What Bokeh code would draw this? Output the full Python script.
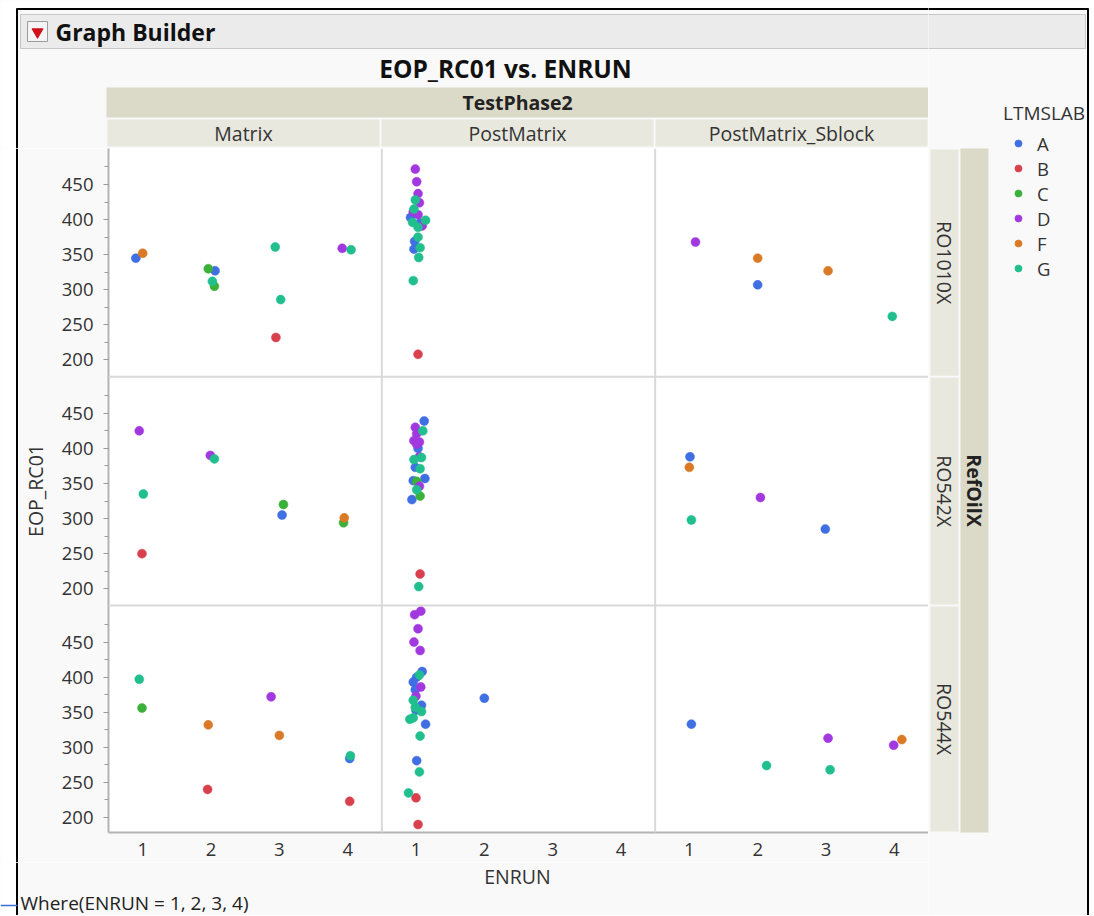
import math
from bokeh.plotting import figure
from bokeh.layouts import column, row
from bokeh.models import (Range1d, FixedTicker, Label, Legend, LegendItem, Span,
                          ColumnDataSource)
from bokeh.embed import file_html
from bokeh.resources import INLINE

# ---------------- data ----------------
PHASES = ["Matrix", "PostMatrix", "PostMatrix_Sblock"]
OILS = ["RO1010X", "RO542X", "RO544X"]
LABS = ["A", "B", "C", "D", "F", "G"]
LAB_COLORS = ["#3F6FE3", "#D8404E", "#3CB13A", "#A239E0", "#DA7A27", "#21BF8E"]
ENRUN_TICKS = [1, 2, 3, 4]
EOP_TICKS = [200, 250, 300, 350, 400, 450]
EOP_MINOR = [225, 275, 325, 375, 425, 475]

matrix_ro1010x_enrun = [0.90, 1.00, 1.96, 2.06, 2.02, 2.05, 2.94, 3.02, 2.95, 3.92, 4.05]
matrix_ro1010x_eop = [345, 352, 330, 327, 312, 305, 361, 286, 232, 359, 357]
matrix_ro1010x_lab = ["A", "F", "C", "A", "G", "C", "G", "G", "B", "D", "G"]

post_ro1010x_enrun = [0.99, 1.01, 1.03, 0.99, 1.05, 0.97, 0.96, 1.03, 0.92, 0.95, 1.14,
                      1.06, 1.09, 1.03, 1.03, 0.98, 1.06, 0.97, 1.04, 0.96, 1.03]
post_ro1010x_eop = [472, 454, 437, 428, 424, 415, 411, 407, 403, 396, 399,
                    395, 391, 389, 375, 369, 360, 358, 346, 313, 208]
post_ro1010x_lab = ["D", "D", "D", "G", "D", "G", "D", "D", "A", "G", "G",
                    "A", "D", "G", "G", "A", "G", "A", "G", "G", "B"]

sblock_ro1010x_enrun = [1.09, 2.00, 3.03, 2.00, 3.97]
sblock_ro1010x_eop = [368, 345, 327, 307, 262]
sblock_ro1010x_lab = ["D", "F", "F", "A", "G"]

matrix_ro542x_enrun = [0.95, 1.99, 2.05, 1.01, 3.06, 3.04, 3.95, 3.94, 0.99]
matrix_ro542x_eop = [425, 390, 385, 335, 320, 305, 301, 294, 250]
matrix_ro542x_lab = ["D", "D", "G", "G", "C", "A", "F", "C", "B"]

post_ro542x_enrun = [1.12, 0.99, 1.10, 1.01, 0.97, 1.05, 1.01, 1.03, 1.05, 1.08, 0.97,
                     0.99, 1.06, 1.13, 0.96, 1.01, 1.05, 1.01, 1.06, 0.94, 1.06, 1.04]
post_ro542x_eop = [439, 430, 425, 421, 411, 409, 406, 400, 388, 387, 384,
                   373, 371, 357, 354, 353, 346, 341, 332, 327, 221, 203]
post_ro542x_lab = ["A", "D", "G", "D", "D", "D", "D", "A", "D", "G", "G",
                   "A", "G", "A", "A", "C", "D", "G", "C", "A", "B", "G"]

sblock_ro542x_enrun = [1.01, 1.00, 2.04, 1.03, 2.99]
sblock_ro542x_eop = [388, 373, 330, 298, 285]
sblock_ro542x_lab = ["A", "F", "D", "G", "A"]

matrix_ro544x_enrun = [0.95, 0.99, 2.88, 1.96, 3.00, 4.04, 4.03, 1.95, 4.03]
matrix_ro544x_eop = [397, 356, 372, 332, 317, 288, 284, 240, 223]
matrix_ro544x_lab = ["G", "C", "D", "F", "F", "G", "A", "B", "B"]

post_ro544x_enrun = [1.07, 0.98, 1.03, 0.97, 1.06, 1.09, 1.05, 1.01, 0.96, 1.07, 0.99,
                     1.00, 0.96, 1.08, 0.99, 1.00, 1.08, 0.91, 0.96, 1.14, 1.06, 1.01,
                     1.05, 0.89, 1.00, 1.03, 2.00]
post_ro544x_eop = [494, 489, 469, 450, 438, 408, 403, 400, 393, 386, 382,
                   373, 367, 360, 357, 353, 351, 340, 342, 333, 316, 281,
                   265, 235, 228, 190, 370]
post_ro544x_lab = ["D", "D", "D", "D", "D", "A", "G", "A", "A", "D", "A",
                   "D", "G", "A", "G", "A", "G", "G", "G", "A", "G", "A",
                   "G", "G", "B", "B", "A"]

sblock_ro544x_enrun = [1.03, 3.03, 3.99, 4.11, 2.13, 3.06]
sblock_ro544x_eop = [333, 313, 303, 311, 274, 268]
sblock_ro544x_lab = ["A", "D", "D", "F", "G", "G"]

PANELS = {
    (0, 0): (matrix_ro1010x_enrun, matrix_ro1010x_eop, matrix_ro1010x_lab),
    (1, 0): (post_ro1010x_enrun, post_ro1010x_eop, post_ro1010x_lab),
    (2, 0): (sblock_ro1010x_enrun, sblock_ro1010x_eop, sblock_ro1010x_lab),
    (0, 1): (matrix_ro542x_enrun, matrix_ro542x_eop, matrix_ro542x_lab),
    (1, 1): (post_ro542x_enrun, post_ro542x_eop, post_ro542x_lab),
    (2, 1): (sblock_ro542x_enrun, sblock_ro542x_eop, sblock_ro542x_lab),
    (0, 2): (matrix_ro544x_enrun, matrix_ro544x_eop, matrix_ro544x_lab),
    (1, 2): (post_ro544x_enrun, post_ro544x_eop, post_ro544x_lab),
    (2, 2): (sblock_ro544x_enrun, sblock_ro544x_eop, sblock_ro544x_lab),
}

# ---------------- layout constants (page pixels) ----------------
COL_SPAN = 4          # ENRUN units per facet column
ROW_SPAN = 326        # EOP units per facet row
X0, X1 = 0.5, 12.5
Y0, Y1 = 178.63, 1153.3
TOTAL_W = 1092
TOTAL_H = 915
FL, FR, FT, FB = 106, 928, 148, 832   # panel frame edges
MID_BOTTOM = 862
LEFT_EDGE = 18
WIN_R = 1088
FONT = "Open Sans"
BG = "#F9F9F9"
STRIP_OUT = "#DBD9C8"
STRIP_IN = "#E8E8DE"
TXT = "#333333"
FS = "19.5px"


def gx(col, x):
    return x + COL_SPAN * col


def gy(row, y):
    return y + ROW_SPAN * (2 - row)


def px_x(g):
    return FL + (g - X0) / (X1 - X0) * (FR - FL)


def px_y(g):
    return FB - (g - Y0) / (Y1 - Y0) * (FB - FT)


def canvas(x0, x1, y0, y1):
    """A figure whose frame fills its whole canvas, in page-pixel units (y down)."""
    f = figure(width=x1 - x0, height=y1 - y0, output_backend="svg", toolbar_location=None,
               x_range=Range1d(x0, x1), y_range=Range1d(y1, y0),
               x_axis_location=None, y_axis_location=None,
               min_border=0, min_border_left=0, min_border_right=0,
               min_border_top=0, min_border_bottom=0, frame_align=False)
    f.grid.visible = False
    f.outline_line_color = None
    f.background_fill_color = BG
    f.border_fill_color = BG
    return f


def label(f, x, y, text, size=FS, bold=False, align="center", angle=0.0, color=TXT):
    f.add_layout(Label(x=x, y=y, text=text, text_font=FONT, text_font_size=size,
                       text_font_style="bold" if bold else "normal", text_color=color,
                       text_align=align, text_baseline="middle", angle=angle))


col_px = [px_x(gx(c, 0.5)) for c in range(3)] + [px_x(X1)]
row_px = [px_y(Y1)] + [px_y(gy(r, 176)) for r in range(2)] + [px_y(Y0)]

# ---------------- top-left: header bar, title, column strips ----------------
T = canvas(0, FR, 0, FT)
T.quad(left=[0, 0], right=[FR, 16], top=[0, 0], bottom=[8, FT], fill_color="white",
       line_color=None)
T.segment(x0=[16.5, 16], y0=[8, 8.5], x1=[16.5, FR], y1=[FT, 8.5],
          line_color="black", line_width=2)
T.quad(left=[20], right=[FR + 10], top=[14], bottom=[48], fill_color="#EBEBEB",
       line_color="#C8C8C8", line_width=1)
T.quad(left=[27], right=[47], top=[21], bottom=[41], fill_color="#F4F4F4",
       line_color="#9C9C9C", line_width=1)
T.scatter(x=[37], y=[31.5], marker="inverted_triangle", size=11, fill_color="#D0101A",
          line_color="#D0101A")
label(T, 55, 31, "Graph Builder", size="23px", bold=True, align="left", color="#111111")
label(T, 505, 68, "EOP_RC01 vs. ENRUN", size="24.5px", bold=True, color="#111111")
T.quad(left=[FL], right=[FR], top=[87], bottom=[117], fill_color=STRIP_OUT, line_color=None)
label(T, (FL + FR) / 2, 102, "TestPhase2", bold=True, color="#222222")
T.quad(left=[col_px[c] + 1 for c in range(3)], right=[col_px[c + 1] - 1 for c in range(3)],
       top=[119] * 3, bottom=[146] * 3, fill_color=STRIP_IN, line_color=None)
for c, name in enumerate(PHASES):
    label(T, (col_px[c] + col_px[c + 1]) / 2, 132.5, name)

# ---------------- left window edge ----------------
L = canvas(0, LEFT_EDGE, FT, MID_BOTTOM)
L.quad(left=[0], right=[16], top=[FT], bottom=[MID_BOTTOM], fill_color="white", line_color=None)
L.segment(x0=[16.5], y0=[FT], x1=[16.5], y1=[MID_BOTTOM], line_color="black", line_width=2)

# ---------------- main panels ----------------
M = figure(width=FR - LEFT_EDGE, height=MID_BOTTOM - FT, output_backend="svg",
           toolbar_location=None, x_range=Range1d(X0, X1), y_range=Range1d(Y0, Y1),
           min_border_left=FL - LEFT_EDGE, min_border_right=0, min_border_top=0,
           min_border_bottom=MID_BOTTOM - FB, frame_align=False)
M.grid.visible = False
M.outline_line_color = None
M.background_fill_color = "white"
M.border_fill_color = BG

xa = M.xaxis[0]
xa.ticker = FixedTicker(ticks=[gx(c, t) for c in range(3) for t in ENRUN_TICKS])
xa.major_label_overrides = {gx(c, t): str(t) for c in range(3) for t in ENRUN_TICKS}
xa.axis_line_color = "#B4B4B4"
xa.axis_line_width = 2
xa.major_tick_line_color = None
xa.minor_tick_line_color = None
xa.major_label_standoff = 4
xa.major_label_text_font = FONT
xa.major_label_text_font_size = "18.5px"
xa.major_label_text_color = TXT

ya = M.yaxis[0]
ya.ticker = FixedTicker(ticks=[gy(r, t) for r in range(3) for t in EOP_TICKS],
                        minor_ticks=[gy(r, t) for r in range(3) for t in EOP_MINOR])
ya.major_label_overrides = {gy(r, t): str(t) for r in range(3) for t in EOP_TICKS}
ya.axis_line_color = "#B4B4B4"
ya.axis_line_width = 2
ya.major_tick_line_color = "#9A9A9A"
ya.minor_tick_line_color = "#9A9A9A"
ya.major_tick_out = 5
ya.major_tick_in = 0
ya.minor_tick_out = 4
ya.minor_tick_in = 0
ya.major_label_standoff = 10
ya.major_label_text_font = FONT
ya.major_label_text_font_size = "18.5px"
ya.major_label_text_color = TXT
ya.axis_label = "EOP_RC01"
ya.axis_label_text_font = FONT
ya.axis_label_text_font_size = FS
ya.axis_label_text_font_style = "normal"
ya.axis_label_text_color = TXT
ya.axis_label_standoff = 10

for c in range(1, 3):
    M.add_layout(Span(location=gx(c, 0.5), dimension="height", line_color="#D9D9D9", line_width=2))
for r in range(0, 2):
    M.add_layout(Span(location=gy(r, 176), dimension="width", line_color="#D9D9D9", line_width=2))

for lab, color in zip(LABS, LAB_COLORS):
    xs, ys = [], []
    for (c, r), (ex, ey, el) in PANELS.items():
        for x, y, l in zip(ex, ey, el):
            if l == lab:
                xs.append(gx(c, x))
                ys.append(gy(r, y))
    M.scatter("x", "y", source=ColumnDataSource(dict(x=xs, y=ys)), size=9,
              fill_color=color, line_color=color, line_width=0.5)

# ---------------- bottom-left: axis title + where clause ----------------
B = canvas(0, FR, MID_BOTTOM, TOTAL_H)
B.quad(left=[0], right=[16], top=[MID_BOTTOM], bottom=[TOTAL_H], fill_color="white",
       line_color=None)
B.segment(x0=[16.5], y0=[MID_BOTTOM], x1=[16.5], y1=[TOTAL_H], line_color="black", line_width=2)
B.segment(x0=[0], y0=[905], x1=[17], y1=[905], line_color="#3A6FD8", line_width=1.5)
label(B, (FL + FR) / 2, 876, "ENRUN")
label(B, 20, 902, "Where(ENRUN = 1, 2, 3, 4)", size="19px", align="left", color="#222222")

# ---------------- right column: strips, legend, window edge ----------------
RC = canvas(FR, TOTAL_W, 0, TOTAL_H)
RC.quad(left=[FR, WIN_R + 1], right=[TOTAL_W, TOTAL_W], top=[0, 0], bottom=[8, TOTAL_H],
        fill_color="white", line_color=None)
RC.segment(x0=[FR - 2, WIN_R - 0.5], y0=[8.5, 8], x1=[WIN_R, WIN_R - 0.5], y1=[8.5, TOTAL_H],
           line_color="black", line_width=2)
RC.quad(left=[FR - 10], right=[1085], top=[14], bottom=[48], fill_color="#EBEBEB",
        line_color="#C8C8C8", line_width=1)
RC.quad(left=[930] * 3, right=[958] * 3, top=[row_px[r] + 1 for r in range(3)],
        bottom=[row_px[r + 1] - 1 for r in range(3)], fill_color=STRIP_IN, line_color=None)
RC.quad(left=[960], right=[988], top=[FT], bottom=[FB], fill_color=STRIP_OUT, line_color=None)
for r, name in enumerate(OILS):
    label(RC, 944, (row_px[r] + row_px[r + 1]) / 2, name, angle=-math.pi / 2)
label(RC, 974, (FT + FB) / 2, "RefOilX", bold=True, angle=-math.pi / 2, color="#222222")

# legend swatches: one off-canvas point per lab so the legend has a glyph to draw
legend_rs = [RC.scatter(x=[FR - 500], y=[-500], size=9, fill_color=col, line_color=col,
                        line_width=0.5)
             for col in LAB_COLORS]
legend = Legend(items=[LegendItem(label=lab, renderers=[rr]) for lab, rr in zip(LABS, legend_rs)],
                location=(1003 - FR, TOTAL_H - 280.6), title="LTMSLAB",
                title_text_font=FONT, title_text_font_size="19px",
                title_text_font_style="normal", title_text_color=TXT,
                title_standoff=5,
                label_text_font=FONT, label_text_font_size="18.5px", label_text_color=TXT,
                glyph_width=30, glyph_height=18, label_height=25, label_standoff=4,
                spacing=0, padding=0, margin=0,
                background_fill_alpha=0, border_line_alpha=0)
RC.add_layout(legend)

layout = row(column(T, row(L, M), B), RC)
open("out.html", "w").write(file_html(layout, INLINE))
